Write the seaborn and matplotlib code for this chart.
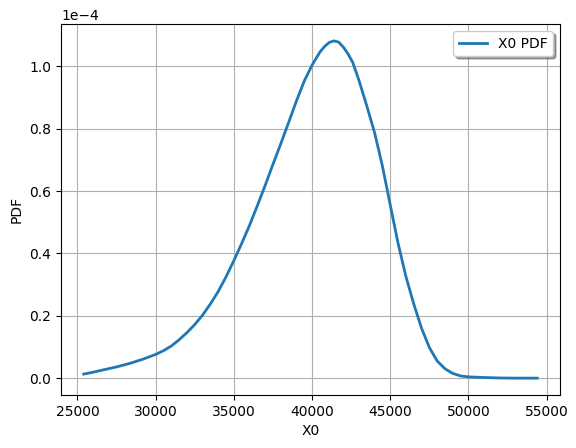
import matplotlib
matplotlib.use("Agg")
import matplotlib.pyplot as plt
import seaborn as sns
import pandas as pd

x_values = [25400, 26000, 26700, 27500, 28400, 29200, 30000, 30500, 31000, 31500,
            32000, 32500, 33000, 33500, 34000, 34500, 35000, 35500, 36000, 36500,
            37000, 37500, 38000, 38500, 39000, 39500, 40000, 40500, 40800, 41100,
            41400, 41700, 42000, 42300, 42600, 43000, 43500, 44000, 44500, 45000,
            45500, 46000, 46500, 47000, 47500, 48000, 48500, 49000, 49500, 50000,
            51000, 52000, 53000, 54400]
# PDF values in units of 1e-4
pdf_e4 = [0.013, 0.019, 0.027, 0.036, 0.048, 0.061, 0.076, 0.088, 0.103, 0.123,
          0.146, 0.172, 0.202, 0.238, 0.278, 0.325, 0.377, 0.432, 0.490, 0.553,
          0.618, 0.686, 0.752, 0.820, 0.889, 0.953, 1.004, 1.046, 1.064, 1.077,
          1.082, 1.078, 1.062, 1.040, 1.013, 0.955, 0.873, 0.787, 0.680, 0.555,
          0.432, 0.326, 0.238, 0.160, 0.098, 0.055, 0.030, 0.015, 0.007, 0.004,
          0.002, 0.0005, 0.0, 0.0]
series_label = "X0 PDF"

df = pd.DataFrame({"X0": x_values, "PDF": [v * 1e-4 for v in pdf_e4]})

fig = plt.figure(figsize=(5.76, 4.48), dpi=100)
ax = fig.add_axes([61/576, 1 - 395/448, (560 - 61)/576, (395 - 24)/448])
sns.lineplot(data=df, x="X0", y="PDF", ax=ax, color="#1f77b4", linewidth=2,
             label=series_label, estimator=None, sort=False)
ax.ticklabel_format(axis="y", style="sci", scilimits=(0, 0))
ax.grid(True)
ax.set_xlabel("X0")
ax.set_ylabel("PDF")
ax.legend(loc="upper right", shadow=True)
fig.savefig("out.png", dpi=100)
